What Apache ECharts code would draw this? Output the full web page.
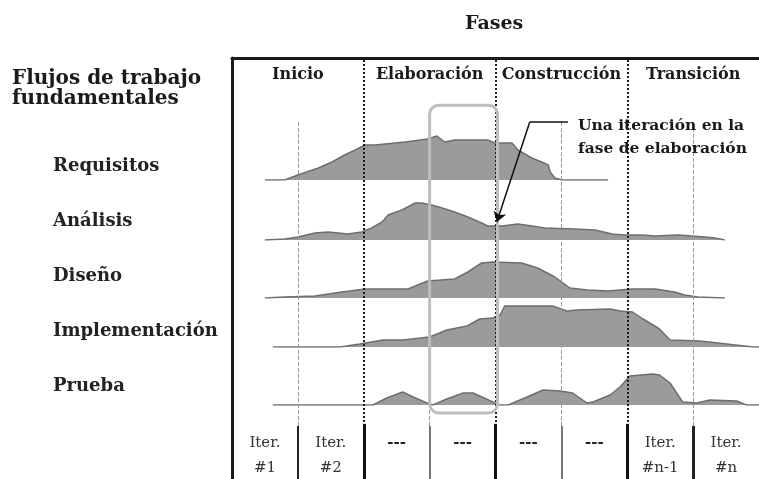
<!DOCTYPE html>
<html>
<head>
<meta charset="utf-8">
<script src="https://cdn.jsdelivr.net/npm/echarts@6/dist/echarts.min.js"></script>
<style>
  html, body { margin: 0; padding: 0; background: #fff; }
  #chart { width: 759px; height: 479px; }
</style>
</head>
<body>
<div id="chart"></div>
<script>
// fases e iteraciones
const phases = ['Inicio', 'Elaboración', 'Construcción', 'Transición'];
const iterations = ['Iter.\n#1', 'Iter.\n#2', '---', '---', '---', '---', 'Iter.\n#n-1', 'Iter.\n#n'];
const workflows = ['Requisitos', 'Análisis', 'Diseño', 'Implementación', 'Prueba'];
const phaseBounds = [2, 4, 6];
const iterBounds = [1, 3, 5, 7];

// esfuerzo de cada flujo: [iteración, altura]
const requisitos = [[0.5,0],[0.8,0],[1.0,5],[1.31,12],[1.52,18],[1.71,25],[1.87,30],[2.02,35],[2.17,35],
  [2.63,38],[2.97,41],[3.11,44],[3.23,38],[3.38,40],[3.88,40],[3.99,37],[4.25,37],[4.34,30],[4.55,22],
  [4.7,18],[4.8,15],[4.83,8],[4.9,2],[5.01,0],[5.71,0]];
const analisis = [[0.5,0],[0.8,1],[1.0,3],[1.26,7],[1.46,8],[1.61,7],[1.76,6],[1.97,8],[2.12,12],[2.28,18],
  [2.37,25],[2.58,30],[2.78,37],[2.88,37],[3.03,35],[3.19,32],[3.38,28],[3.58,23],[3.79,17],[3.88,14],
  [4.1,14],[4.34,16],[4.55,14],[4.75,12],[5.2,11],[5.51,10],[5.77,6],[5.96,5],[6.22,5],[6.42,4],[6.77,5],
  [7.18,3],[7.33,2],[7.48,0]];
const diseno = [[0.5,0],[0.8,1],[1.26,2],[1.67,6],[2.02,9],[2.67,9],[2.97,17],[3.38,19],[3.58,26],[3.79,35],
  [3.95,36],[4.4,35],[4.64,30],[4.9,21],[5.13,10],[5.4,8],[5.71,7],[6.07,9],[6.42,9],[6.72,6],[6.87,3],
  [7.07,1],[7.48,0]];
const implementacion = [[0.62,0],[1.64,0],[1.94,3],[2.29,7],[2.59,7],[3.0,10],[3.26,17],[3.57,21],[3.76,28],
  [3.96,29],[4.07,32],[4.14,41],[4.87,41],[5.08,36],[5.24,37],[5.74,38],[5.89,36],[6.08,35],[6.24,28],
  [6.49,18],[6.65,7],[7.1,6],[7.51,3],[7.91,0],[8,0]];
const prueba = [[0.62,0],[2.14,0],[2.35,7],[2.59,13],[2.75,8],[2.96,2],[3.05,0],[3.26,6],[3.51,12],[3.66,12],
  [3.96,3],[4.04,0],[4.19,0],[4.48,8],[4.72,15],[4.98,14],[5.17,12],[5.39,2],[5.48,3],[5.74,10],[5.89,18],
  [6.04,29],[6.39,31],[6.49,30],[6.65,22],[6.84,3],[7.06,2],[7.25,5],[7.66,4],[7.81,0],[8,0]];
const flows = [requisitos, analisis, diseno, implementacion, prueba];

// iteración resaltada [x0, x1, y0, y1] y flecha (en ejes de Requisitos)
const highlight = [3, 4.03, 0.157, 0.888];
const arrowElbow = [[5.1, 58], [4.52, 58]];
const arrowTip = [[4.52, 58], [4.02, -42]];

const serif = 'DejaVu Serif';
const baselines = [180, 240, 298, 347, 405];
const frameSplit = 0.126; // límite entre flujos y fila de iteraciones
const iterLineTop = 0.853;

const chartObj = echarts.init(document.getElementById('chart'));

const grids = [], xAxes = [], yAxes = [], series = [];
flows.forEach((data, i) => {
  grids.push({ left: 232, right: 0, top: baselines[i] - 50, height: 50 });
  xAxes.push({ type: 'value', gridIndex: i, min: 0, max: 8, show: false });
  yAxes.push({ type: 'value', gridIndex: i, min: 0, max: 50, show: false });
  series.push({
    name: workflows[i], type: 'line', xAxisIndex: i, yAxisIndex: i, data: data,
    showSymbol: false, symbol: 'none', z: 3, silent: true,
    lineStyle: { color: '#6e6e6e', width: 1.5 },
    areaStyle: { color: '#9b9b9b', opacity: 1 }
  });
});

// marco general
grids.push({ left: 232, right: 0, top: 58, bottom: 0 });
xAxes.push({ type: 'value', gridIndex: 5, min: 0, max: 8, show: false });
xAxes.push({
  type: 'category', gridIndex: 5, position: 'top', data: phases,
  axisLine: { show: true, onZero: false, lineStyle: { color: '#1a1a1a', width: 3 } },
  axisTick: { show: false }, splitLine: { show: false },
  axisLabel: { inside: true, margin: 9, interval: 0, color: '#1a1a1a',
    fontFamily: serif, fontWeight: 'bold', fontSize: 16 }
});
yAxes.push({
  type: 'value', gridIndex: 5, min: 0, max: 1,
  axisLine: { show: true, onZero: false, lineStyle: { color: '#1a1a1a', width: 3 } },
  axisTick: { show: false }, axisLabel: { show: false }, splitLine: { show: false }
});

// fila de iteraciones
grids.push({ left: 232, right: 0, top: 426, bottom: 0 });
xAxes.push({
  type: 'category', gridIndex: 6, position: 'top', data: iterations,
  axisLine: { show: false }, axisTick: { show: false }, splitLine: { show: false },
  axisLabel: {
    inside: true, margin: 5, interval: 0, color: '#333', fontFamily: serif,
    fontSize: 15, lineHeight: 25,
    formatter: v => v === '---' ? '{d|---}' : v,
    rich: { d: { fontFamily: serif, fontWeight: 'bold', fontSize: 15, color: '#222', lineHeight: 25 } }
  }
});
yAxes.push({ type: 'value', gridIndex: 6, min: 0, max: 1, show: false });

const lines = [];
phaseBounds.forEach(b => {
  lines.push([{ coord: [b, frameSplit] }, { coord: [b, 1], lineStyle: { type: 'dotted', color: '#1a1a1a', width: 2 } }]);
  lines.push([{ coord: [b, 0] }, { coord: [b, frameSplit + 0.005], lineStyle: { type: 'solid', color: '#111', width: 3 } }]);
});
iterBounds.forEach(b => {
  lines.push([{ coord: [b, frameSplit] }, { coord: [b, iterLineTop], lineStyle: { type: 'dashed', color: '#9a9a9a', width: 1 } }]);
  const dark = b === 1 || b === 7;
  lines.push([{ coord: [b, 0] }, { coord: [b, frameSplit], lineStyle: { type: 'solid', color: dark ? '#222' : '#777', width: b === 7 ? 3 : 2 } }]);
});

series.push({
  type: 'line', xAxisIndex: 5, yAxisIndex: 5, data: [], z: 1, silent: true,
  markLine: { silent: true, symbol: 'none', label: { show: false }, animation: false, data: lines }
});

series.push({
  type: 'custom', xAxisIndex: 5, yAxisIndex: 5, z: 5, silent: true,
  data: [highlight], encode: { x: [0, 1], y: [2, 3] },
  renderItem: (params, api) => {
    const p0 = api.coord([api.value(0), api.value(2)]);
    const p1 = api.coord([api.value(1), api.value(3)]);
    return {
      type: 'rect',
      shape: { x: p0[0], y: p1[1], width: p1[0] - p0[0], height: p0[1] - p1[1], r: 9 },
      style: { fill: 'transparent', stroke: '#bdbdbd', lineWidth: 3 }
    };
  }
});

series.push({
  type: 'lines', coordinateSystem: 'cartesian2d', xAxisIndex: 0, yAxisIndex: 0, clip: false, z: 6,
  silent: true, symbol: ['none', 'none'],
  lineStyle: { color: '#111', width: 1.5, opacity: 1 },
  data: [{ coords: arrowElbow }]
});
series.push({
  type: 'lines', coordinateSystem: 'cartesian2d', xAxisIndex: 0, yAxisIndex: 0, clip: false, z: 6,
  silent: true, symbol: ['none', 'arrow'], symbolSize: 10,
  lineStyle: { color: '#111', width: 1.5, opacity: 1 },
  data: [{ coords: arrowTip }]
});

const titles = [
  { text: 'Fases', left: 465, top: 15, padding: 0,
    textStyle: { fontFamily: serif, fontWeight: 'bold', fontSize: 19, color: '#1a1a1a' } },
  { text: 'Flujos de trabajo\nfundamentales', left: 12, top: 69, padding: 0,
    textStyle: { fontFamily: serif, fontWeight: 'bold', fontSize: 20, lineHeight: 20, color: '#1a1a1a' } },
  { text: 'Una iteración en la\nfase de elaboración', left: 578, top: 114, padding: 0,
    textStyle: { fontFamily: serif, fontWeight: 'bold', fontSize: 15.5, lineHeight: 23, color: '#1a1a1a' } }
];
workflows.forEach((w, i) => {
  titles.push({ text: w, left: 53, top: 157 + i * 55, padding: 0,
    textStyle: { fontFamily: serif, fontWeight: 'bold', fontSize: 18, color: '#222' } });
});

const option = {
  animation: false,
  backgroundColor: '#fff',
  title: titles,
  grid: grids,
  xAxis: xAxes,
  yAxis: yAxes,
  series: series
};
chartObj.setOption(option, true);
window.addEventListener('resize', () => chartObj.resize());
</script>
</body>
</html>
